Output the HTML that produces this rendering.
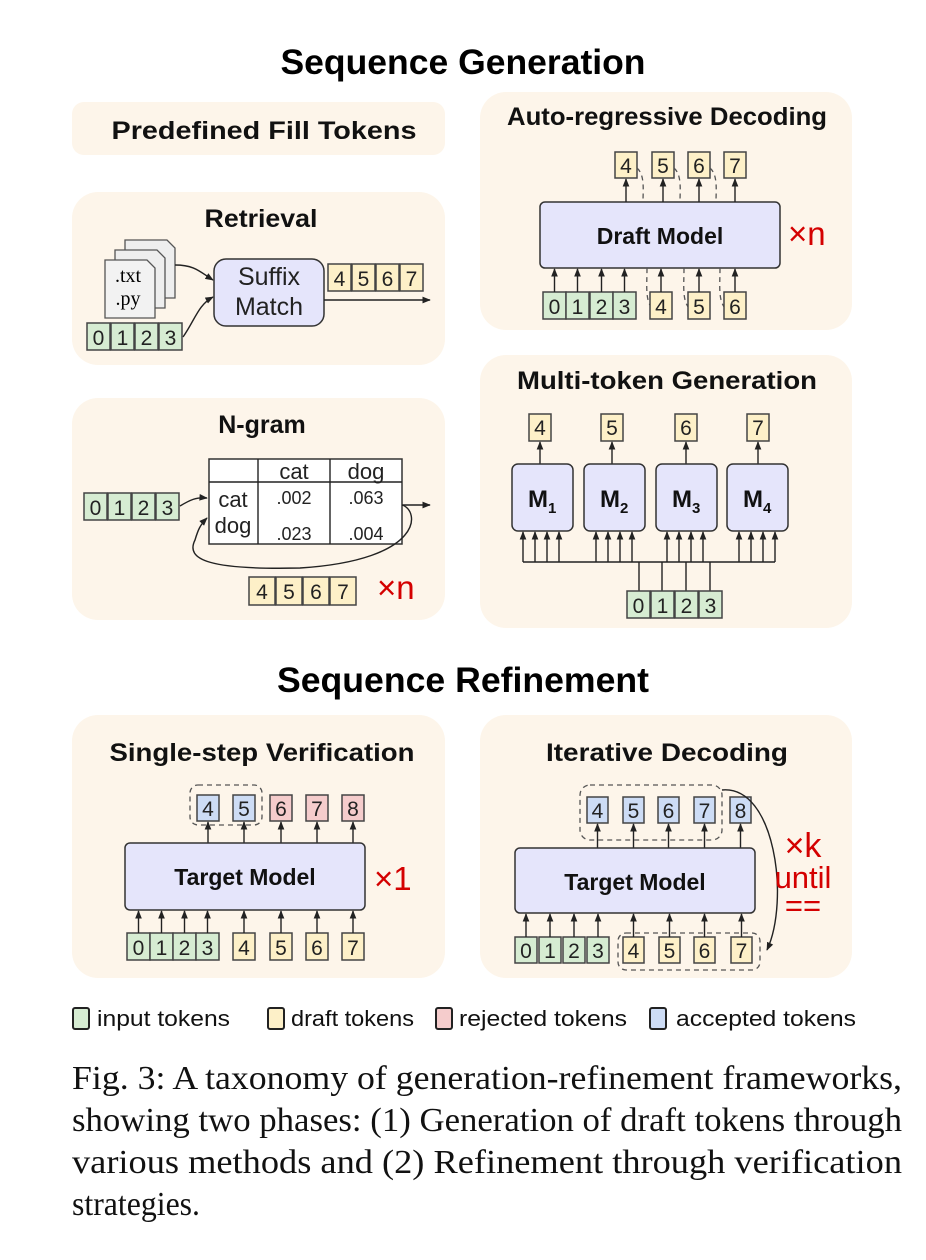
<!DOCTYPE html>
<html><head><meta charset="utf-8"><style>
html,body{margin:0;padding:0;background:#fff}
svg{display:block}
text{font-family:"Liberation Sans",sans-serif}
.t{font-size:21px;text-anchor:middle;fill:#222}
.h{font-weight:bold;font-size:25px;text-anchor:middle;fill:#111}
.H{font-weight:bold;font-size:35px;text-anchor:middle;fill:#000}
.r{fill:#d40000;font-size:33px}
.g{fill:#d6ecd2;stroke:#444;stroke-width:1.5}
.y{fill:#fdf0c8;stroke:#444;stroke-width:1.5}
.p{fill:#f5cccc;stroke:#444;stroke-width:1.5}
.b{fill:#cddcf5;stroke:#444;stroke-width:1.5}
.m{fill:#e5e5fb;stroke:#333;stroke-width:1.5}
.pn{fill:#fdf5ea}
.l{stroke:#222;stroke-width:1.4;fill:none}
.d{stroke:#555;stroke-width:1.3;fill:none;stroke-dasharray:5,4}
.cap{font-family:"Liberation Serif",serif;font-size:34px;fill:#111}
</style></head><body>
<svg width="926" height="1260" viewBox="0 0 926 1260" xmlns="http://www.w3.org/2000/svg">
<defs><marker id="a" viewBox="0 0 10 10" refX="9" refY="5" markerWidth="6" markerHeight="6" orient="auto"><path d="M0,1 L10,5 L0,9 z" fill="#222"/></marker></defs>

<text class="H" x="463" y="74" textLength="365" lengthAdjust="spacingAndGlyphs">Sequence Generation</text>

<rect class="pn" x="72" y="102" width="373" height="53" rx="12"/>
<rect class="pn" x="72" y="192" width="373" height="173" rx="26"/>
<rect class="pn" x="72" y="398" width="373" height="222" rx="26"/>
<rect class="pn" x="480" y="92" width="372" height="238" rx="26"/>
<rect class="pn" x="480" y="355" width="372" height="273" rx="26"/>
<rect class="pn" x="72" y="715" width="373" height="263" rx="26"/>
<rect class="pn" x="480" y="715" width="372" height="263" rx="26"/>

<text class="h" x="264" y="139" textLength="305" lengthAdjust="spacingAndGlyphs">Predefined Fill Tokens</text>

<!-- Retrieval -->
<text class="h" x="261" y="227" textLength="113" lengthAdjust="spacingAndGlyphs">Retrieval</text>
<path d="M125,240 h42 l8,8 v50 h-50 z" fill="#eee" stroke="#555" stroke-width="1.3"/>
<path d="M115,250 h42 l8,8 v50 h-50 z" fill="#eee" stroke="#555" stroke-width="1.3"/>
<path d="M105,260 h42 l8,8 v50 h-50 z" fill="#f2f2f2" stroke="#555" stroke-width="1.3"/>
<text x="128" y="282" style="font-family:'Liberation Serif',serif;font-size:20px" text-anchor="middle">.txt</text>
<text x="128" y="305" style="font-family:'Liberation Serif',serif;font-size:20px" text-anchor="middle">.py</text>
<path class="l" d="M175,265 C195,265 200,272 213,280" marker-end="url(#a)"/>
<path class="l" d="M183,337 C195,320 198,305 213,297" marker-end="url(#a)"/>
<rect class="m" x="214" y="259" width="110" height="67" rx="12"/>
<text class="t" x="269" y="285" style="font-size:25px">Suffix</text>
<text class="t" x="269" y="315" style="font-size:25px">Match</text>
<g><rect class="g" x="87" y="323" width="23" height="27"/><rect class="g" x="111" y="323" width="23" height="27"/><rect class="g" x="135" y="323" width="23" height="27"/><rect class="g" x="159" y="323" width="23" height="27"/>
<text class="t" x="98.5" y="345">0</text><text class="t" x="122.5" y="345">1</text><text class="t" x="146.5" y="345">2</text><text class="t" x="170.5" y="345">3</text></g>
<g><rect class="y" x="328" y="264" width="23" height="27"/><rect class="y" x="352" y="264" width="23" height="27"/><rect class="y" x="376" y="264" width="23" height="27"/><rect class="y" x="400" y="264" width="23" height="27"/>
<text class="t" x="339.5" y="286">4</text><text class="t" x="363.5" y="286">5</text><text class="t" x="387.5" y="286">6</text><text class="t" x="411.5" y="286">7</text></g>
<line class="l" x1="324" y1="300" x2="430" y2="300" marker-end="url(#a)"/>

<!-- N-gram -->
<text class="h" x="262" y="433">N-gram</text>
<rect x="209" y="459" width="193" height="85" fill="#fff" stroke="#333" stroke-width="1.5"/>
<line class="l" x1="209" y1="482" x2="402" y2="482"/>
<line class="l" x1="258" y1="459" x2="258" y2="544"/>
<line class="l" x1="330" y1="459" x2="330" y2="544"/>
<text class="t" x="294" y="479" style="font-size:22px">cat</text><text class="t" x="366" y="479" style="font-size:22px">dog</text>
<text class="t" x="233" y="507" style="font-size:22px">cat</text><text class="t" x="233" y="533" style="font-size:22px">dog</text>
<text class="t" x="294" y="504" style="font-size:18px">.002</text><text class="t" x="366" y="504" style="font-size:18px">.063</text>
<text class="t" x="294" y="540" style="font-size:18px">.023</text><text class="t" x="366" y="540" style="font-size:18px">.004</text>
<g><rect class="g" x="84" y="493" width="23" height="27"/><rect class="g" x="108" y="493" width="23" height="27"/><rect class="g" x="132" y="493" width="23" height="27"/><rect class="g" x="156" y="493" width="23" height="27"/>
<text class="t" x="95.5" y="515">0</text><text class="t" x="119.5" y="515">1</text><text class="t" x="143.5" y="515">2</text><text class="t" x="167.5" y="515">3</text></g>
<path class="l" d="M180,506 C190,500 196,497 207,498" marker-end="url(#a)"/>
<line class="l" x1="402" y1="505" x2="430" y2="505" marker-end="url(#a)"/>
<path class="l" d="M402,505 C420,510 425,560 300,568 C210,570 185,560 195,540 C198,530 200,525 207,518" marker-end="url(#a)"/>
<g><rect class="y" x="249" y="577" width="26" height="28"/><rect class="y" x="276" y="577" width="26" height="28"/><rect class="y" x="303" y="577" width="26" height="28"/><rect class="y" x="330" y="577" width="26" height="28"/>
<text class="t" x="262" y="599">4</text><text class="t" x="289" y="599">5</text><text class="t" x="316" y="599">6</text><text class="t" x="343" y="599">7</text></g>
<text class="r" x="377" y="599">×n</text>

<!-- Auto-regressive -->
<text class="h" x="667" y="125" textLength="320" lengthAdjust="spacingAndGlyphs">Auto-regressive Decoding</text>
<rect class="m" x="540" y="202" width="240" height="66" rx="5"/>
<text class="h" x="660" y="244" style="font-size:23px">Draft Model</text>
<text class="r" x="788" y="245">×n</text>
<g><rect class="y" x="615" y="152" width="22" height="26"/><rect class="y" x="652" y="152" width="22" height="26"/><rect class="y" x="688" y="152" width="22" height="26"/><rect class="y" x="724" y="152" width="22" height="26"/>
<text class="t" x="626" y="173">4</text><text class="t" x="663" y="173">5</text><text class="t" x="699" y="173">6</text><text class="t" x="735" y="173">7</text></g>
<line class="l" x1="626" y1="202" x2="626" y2="179" marker-end="url(#a)"/><line class="l" x1="663" y1="202" x2="663" y2="179" marker-end="url(#a)"/><line class="l" x1="699" y1="202" x2="699" y2="179" marker-end="url(#a)"/><line class="l" x1="735" y1="202" x2="735" y2="179" marker-end="url(#a)"/>
<path class="d" d="M637,168 C645,175 643,190 643,202"/><path class="d" d="M674,168 C682,175 680,190 680,202"/><path class="d" d="M710,168 C718,175 716,190 716,202"/>
<path class="d" d="M647,268 C647,285 645,300 652,308"/><path class="d" d="M684,268 C684,285 682,300 689,308"/><path class="d" d="M720,268 C720,285 718,300 725,308"/>
<g><rect class="g" x="543" y="292" width="23" height="27"/><rect class="g" x="566" y="292" width="23" height="27"/><rect class="g" x="590" y="292" width="23" height="27"/><rect class="g" x="613" y="292" width="23" height="27"/>
<rect class="y" x="650" y="292" width="22" height="27"/><rect class="y" x="688" y="292" width="22" height="27"/><rect class="y" x="724" y="292" width="22" height="27"/>
<text class="t" x="554.5" y="314">0</text><text class="t" x="577.5" y="314">1</text><text class="t" x="601.5" y="314">2</text><text class="t" x="624.5" y="314">3</text><text class="t" x="661" y="314">4</text><text class="t" x="699" y="314">5</text><text class="t" x="735" y="314">6</text></g>
<line class="l" x1="554.5" y1="292" x2="554.5" y2="269" marker-end="url(#a)"/><line class="l" x1="577.5" y1="292" x2="577.5" y2="269" marker-end="url(#a)"/><line class="l" x1="601.5" y1="292" x2="601.5" y2="269" marker-end="url(#a)"/><line class="l" x1="624.5" y1="292" x2="624.5" y2="269" marker-end="url(#a)"/><line class="l" x1="661" y1="292" x2="661" y2="269" marker-end="url(#a)"/><line class="l" x1="699" y1="292" x2="699" y2="269" marker-end="url(#a)"/><line class="l" x1="735" y1="292" x2="735" y2="269" marker-end="url(#a)"/>

<!-- Multi-token -->
<text class="h" x="667" y="389" textLength="300" lengthAdjust="spacingAndGlyphs">Multi-token Generation</text>
<g><rect class="y" x="529" y="414" width="22" height="27"/><rect class="y" x="601" y="414" width="22" height="27"/><rect class="y" x="675" y="414" width="22" height="27"/><rect class="y" x="747" y="414" width="22" height="27"/>
<text class="t" x="540" y="435">4</text><text class="t" x="612" y="435">5</text><text class="t" x="686" y="435">6</text><text class="t" x="758" y="435">7</text></g>
<line class="l" x1="540" y1="464" x2="540" y2="442" marker-end="url(#a)"/><line class="l" x1="612" y1="464" x2="612" y2="442" marker-end="url(#a)"/><line class="l" x1="686" y1="464" x2="686" y2="442" marker-end="url(#a)"/><line class="l" x1="758" y1="464" x2="758" y2="442" marker-end="url(#a)"/>
<rect class="m" x="512" y="464" width="61" height="67" rx="6"/><rect class="m" x="584" y="464" width="61" height="67" rx="6"/><rect class="m" x="656" y="464" width="61" height="67" rx="6"/><rect class="m" x="727" y="464" width="61" height="67" rx="6"/>
<g style="font-weight:bold;font-size:24px;fill:#111"><text x="528" y="507">M<tspan font-size="15" dy="6">1</tspan></text><text x="600" y="507">M<tspan font-size="15" dy="6">2</tspan></text><text x="672" y="507">M<tspan font-size="15" dy="6">3</tspan></text><text x="743" y="507">M<tspan font-size="15" dy="6">4</tspan></text></g>
<line class="l" x1="523" y1="562" x2="775" y2="562"/>
<g>
<line class="l" x1="523" y1="562" x2="523" y2="532" marker-end="url(#a)"/><line class="l" x1="535" y1="562" x2="535" y2="532" marker-end="url(#a)"/><line class="l" x1="547" y1="562" x2="547" y2="532" marker-end="url(#a)"/><line class="l" x1="559" y1="562" x2="559" y2="532" marker-end="url(#a)"/>
<line class="l" x1="596" y1="562" x2="596" y2="532" marker-end="url(#a)"/><line class="l" x1="608" y1="562" x2="608" y2="532" marker-end="url(#a)"/><line class="l" x1="620" y1="562" x2="620" y2="532" marker-end="url(#a)"/><line class="l" x1="632" y1="562" x2="632" y2="532" marker-end="url(#a)"/>
<line class="l" x1="667" y1="562" x2="667" y2="532" marker-end="url(#a)"/><line class="l" x1="679" y1="562" x2="679" y2="532" marker-end="url(#a)"/><line class="l" x1="691" y1="562" x2="691" y2="532" marker-end="url(#a)"/><line class="l" x1="703" y1="562" x2="703" y2="532" marker-end="url(#a)"/>
<line class="l" x1="739" y1="562" x2="739" y2="532" marker-end="url(#a)"/><line class="l" x1="751" y1="562" x2="751" y2="532" marker-end="url(#a)"/><line class="l" x1="763" y1="562" x2="763" y2="532" marker-end="url(#a)"/><line class="l" x1="775" y1="562" x2="775" y2="532" marker-end="url(#a)"/>
<line class="l" x1="639" y1="562" x2="639" y2="591"/><line class="l" x1="662" y1="562" x2="662" y2="591"/><line class="l" x1="686" y1="562" x2="686" y2="591"/><line class="l" x1="710" y1="562" x2="710" y2="591"/>
</g>
<g><rect class="g" x="627" y="591" width="23" height="27"/><rect class="g" x="651" y="591" width="23" height="27"/><rect class="g" x="675" y="591" width="23" height="27"/><rect class="g" x="699" y="591" width="23" height="27"/>
<text class="t" x="638.5" y="613">0</text><text class="t" x="662.5" y="613">1</text><text class="t" x="686.5" y="613">2</text><text class="t" x="710.5" y="613">3</text></g>

<text class="H" x="463" y="692" textLength="372" lengthAdjust="spacingAndGlyphs">Sequence Refinement</text>

<!-- Single-step -->
<text class="h" x="262" y="761" textLength="305" lengthAdjust="spacingAndGlyphs">Single-step Verification</text>
<rect class="d" x="190" y="785" width="72" height="40" rx="8"/>
<g><rect class="b" x="197" y="795" width="22" height="26"/><rect class="b" x="233" y="795" width="22" height="26"/><rect class="p" x="270" y="795" width="22" height="26"/><rect class="p" x="306" y="795" width="22" height="26"/><rect class="p" x="342" y="795" width="22" height="26"/>
<text class="t" x="208" y="816">4</text><text class="t" x="244" y="816">5</text><text class="t" x="281" y="816">6</text><text class="t" x="317" y="816">7</text><text class="t" x="353" y="816">8</text></g>
<line class="l" x1="208" y1="843" x2="208" y2="822" marker-end="url(#a)"/><line class="l" x1="244" y1="843" x2="244" y2="822" marker-end="url(#a)"/><line class="l" x1="281" y1="843" x2="281" y2="822" marker-end="url(#a)"/><line class="l" x1="317" y1="843" x2="317" y2="822" marker-end="url(#a)"/><line class="l" x1="353" y1="843" x2="353" y2="822" marker-end="url(#a)"/>
<rect class="m" x="125" y="843" width="240" height="67" rx="5"/>
<text class="h" x="245" y="885" style="font-size:23px">Target Model</text>
<text class="r" x="374" y="890">×1</text>
<g><rect class="g" x="127" y="933" width="23" height="27"/><rect class="g" x="150" y="933" width="23" height="27"/><rect class="g" x="173" y="933" width="23" height="27"/><rect class="g" x="196" y="933" width="23" height="27"/>
<rect class="y" x="233" y="933" width="22" height="27"/><rect class="y" x="270" y="933" width="22" height="27"/><rect class="y" x="306" y="933" width="22" height="27"/><rect class="y" x="342" y="933" width="22" height="27"/>
<text class="t" x="138.5" y="955">0</text><text class="t" x="161.5" y="955">1</text><text class="t" x="184.5" y="955">2</text><text class="t" x="207.5" y="955">3</text><text class="t" x="244" y="955">4</text><text class="t" x="281" y="955">5</text><text class="t" x="317" y="955">6</text><text class="t" x="353" y="955">7</text></g>
<line class="l" x1="138.5" y1="933" x2="138.5" y2="911" marker-end="url(#a)"/><line class="l" x1="161.5" y1="933" x2="161.5" y2="911" marker-end="url(#a)"/><line class="l" x1="184.5" y1="933" x2="184.5" y2="911" marker-end="url(#a)"/><line class="l" x1="207.5" y1="933" x2="207.5" y2="911" marker-end="url(#a)"/><line class="l" x1="244" y1="933" x2="244" y2="911" marker-end="url(#a)"/><line class="l" x1="281" y1="933" x2="281" y2="911" marker-end="url(#a)"/><line class="l" x1="317" y1="933" x2="317" y2="911" marker-end="url(#a)"/><line class="l" x1="353" y1="933" x2="353" y2="911" marker-end="url(#a)"/>

<!-- Iterative -->
<text class="h" x="667" y="761" textLength="242" lengthAdjust="spacingAndGlyphs">Iterative Decoding</text>
<rect class="d" x="580" y="785" width="142" height="55" rx="10"/>
<g><rect class="b" x="587" y="797" width="21" height="26"/><rect class="b" x="623" y="797" width="21" height="26"/><rect class="b" x="658" y="797" width="21" height="26"/><rect class="b" x="694" y="797" width="21" height="26"/><rect class="b" x="730" y="797" width="21" height="26"/>
<text class="t" x="597.5" y="818">4</text><text class="t" x="633.5" y="818">5</text><text class="t" x="668.5" y="818">6</text><text class="t" x="704.5" y="818">7</text><text class="t" x="740.5" y="818">8</text></g>
<line class="l" x1="597.5" y1="848" x2="597.5" y2="824" marker-end="url(#a)"/><line class="l" x1="633.5" y1="848" x2="633.5" y2="824" marker-end="url(#a)"/><line class="l" x1="668.5" y1="848" x2="668.5" y2="824" marker-end="url(#a)"/><line class="l" x1="704.5" y1="848" x2="704.5" y2="824" marker-end="url(#a)"/><line class="l" x1="740.5" y1="848" x2="740.5" y2="824" marker-end="url(#a)"/>
<rect class="m" x="515" y="848" width="240" height="65" rx="5"/>
<text class="h" x="635" y="890" style="font-size:23px">Target Model</text>
<path class="l" d="M722,790 C775,785 790,900 767,950" marker-end="url(#a)"/>
<text class="r" x="803" y="857" text-anchor="middle" style="font-size:34px">×k</text>
<text class="r" x="803" y="888" text-anchor="middle" style="font-size:31px">until</text>
<text class="r" x="803" y="916" text-anchor="middle" style="font-size:31px">==</text>
<rect class="d" x="618" y="933" width="142" height="37" rx="8"/>
<g><rect class="g" x="515" y="937" width="22" height="26"/><rect class="g" x="539" y="937" width="22" height="26"/><rect class="g" x="563" y="937" width="22" height="26"/><rect class="g" x="587" y="937" width="22" height="26"/>
<rect class="y" x="623" y="937" width="21" height="26"/><rect class="y" x="659" y="937" width="21" height="26"/><rect class="y" x="694" y="937" width="21" height="26"/><rect class="y" x="731" y="937" width="21" height="26"/>
<text class="t" x="526" y="958">0</text><text class="t" x="550" y="958">1</text><text class="t" x="574" y="958">2</text><text class="t" x="598" y="958">3</text><text class="t" x="633.5" y="958">4</text><text class="t" x="669.5" y="958">5</text><text class="t" x="704.5" y="958">6</text><text class="t" x="741.5" y="958">7</text></g>
<line class="l" x1="526" y1="937" x2="526" y2="914" marker-end="url(#a)"/><line class="l" x1="550" y1="937" x2="550" y2="914" marker-end="url(#a)"/><line class="l" x1="574" y1="937" x2="574" y2="914" marker-end="url(#a)"/><line class="l" x1="598" y1="937" x2="598" y2="914" marker-end="url(#a)"/><line class="l" x1="633.5" y1="937" x2="633.5" y2="914" marker-end="url(#a)"/><line class="l" x1="669.5" y1="937" x2="669.5" y2="914" marker-end="url(#a)"/><line class="l" x1="704.5" y1="937" x2="704.5" y2="914" marker-end="url(#a)"/><line class="l" x1="741.5" y1="937" x2="741.5" y2="914" marker-end="url(#a)"/>

<!-- legend -->
<g style="font-size:22px;fill:#111">
<rect class="g" x="73" y="1008" width="16" height="21" rx="2" style="stroke:#222;stroke-width:2"/><text x="97" y="1026" textLength="133" lengthAdjust="spacingAndGlyphs">input tokens</text>
<rect class="y" x="268" y="1008" width="16" height="21" rx="2" style="stroke:#222;stroke-width:2"/><text x="291" y="1026" textLength="123" lengthAdjust="spacingAndGlyphs">draft tokens</text>
<rect class="p" x="436" y="1008" width="16" height="21" rx="2" style="stroke:#222;stroke-width:2"/><text x="459" y="1026" textLength="168" lengthAdjust="spacingAndGlyphs">rejected  tokens</text>
<rect class="b" x="650" y="1008" width="16" height="21" rx="2" style="stroke:#222;stroke-width:2"/><text x="676" y="1026" textLength="180" lengthAdjust="spacingAndGlyphs">accepted  tokens</text>
</g>

<!-- caption -->
<text class="cap" x="72" y="1089" textLength="830" lengthAdjust="spacingAndGlyphs">Fig. 3: A taxonomy of generation-refinement frameworks,</text>
<text class="cap" x="72" y="1131" textLength="830" lengthAdjust="spacingAndGlyphs">showing two phases: (1) Generation of draft tokens through</text>
<text class="cap" x="72" y="1173" textLength="830" lengthAdjust="spacingAndGlyphs">various methods and (2) Refinement through verification</text>
<text class="cap" x="72" y="1215" textLength="128" lengthAdjust="spacingAndGlyphs">strategies.</text>
</svg>
</body></html>
